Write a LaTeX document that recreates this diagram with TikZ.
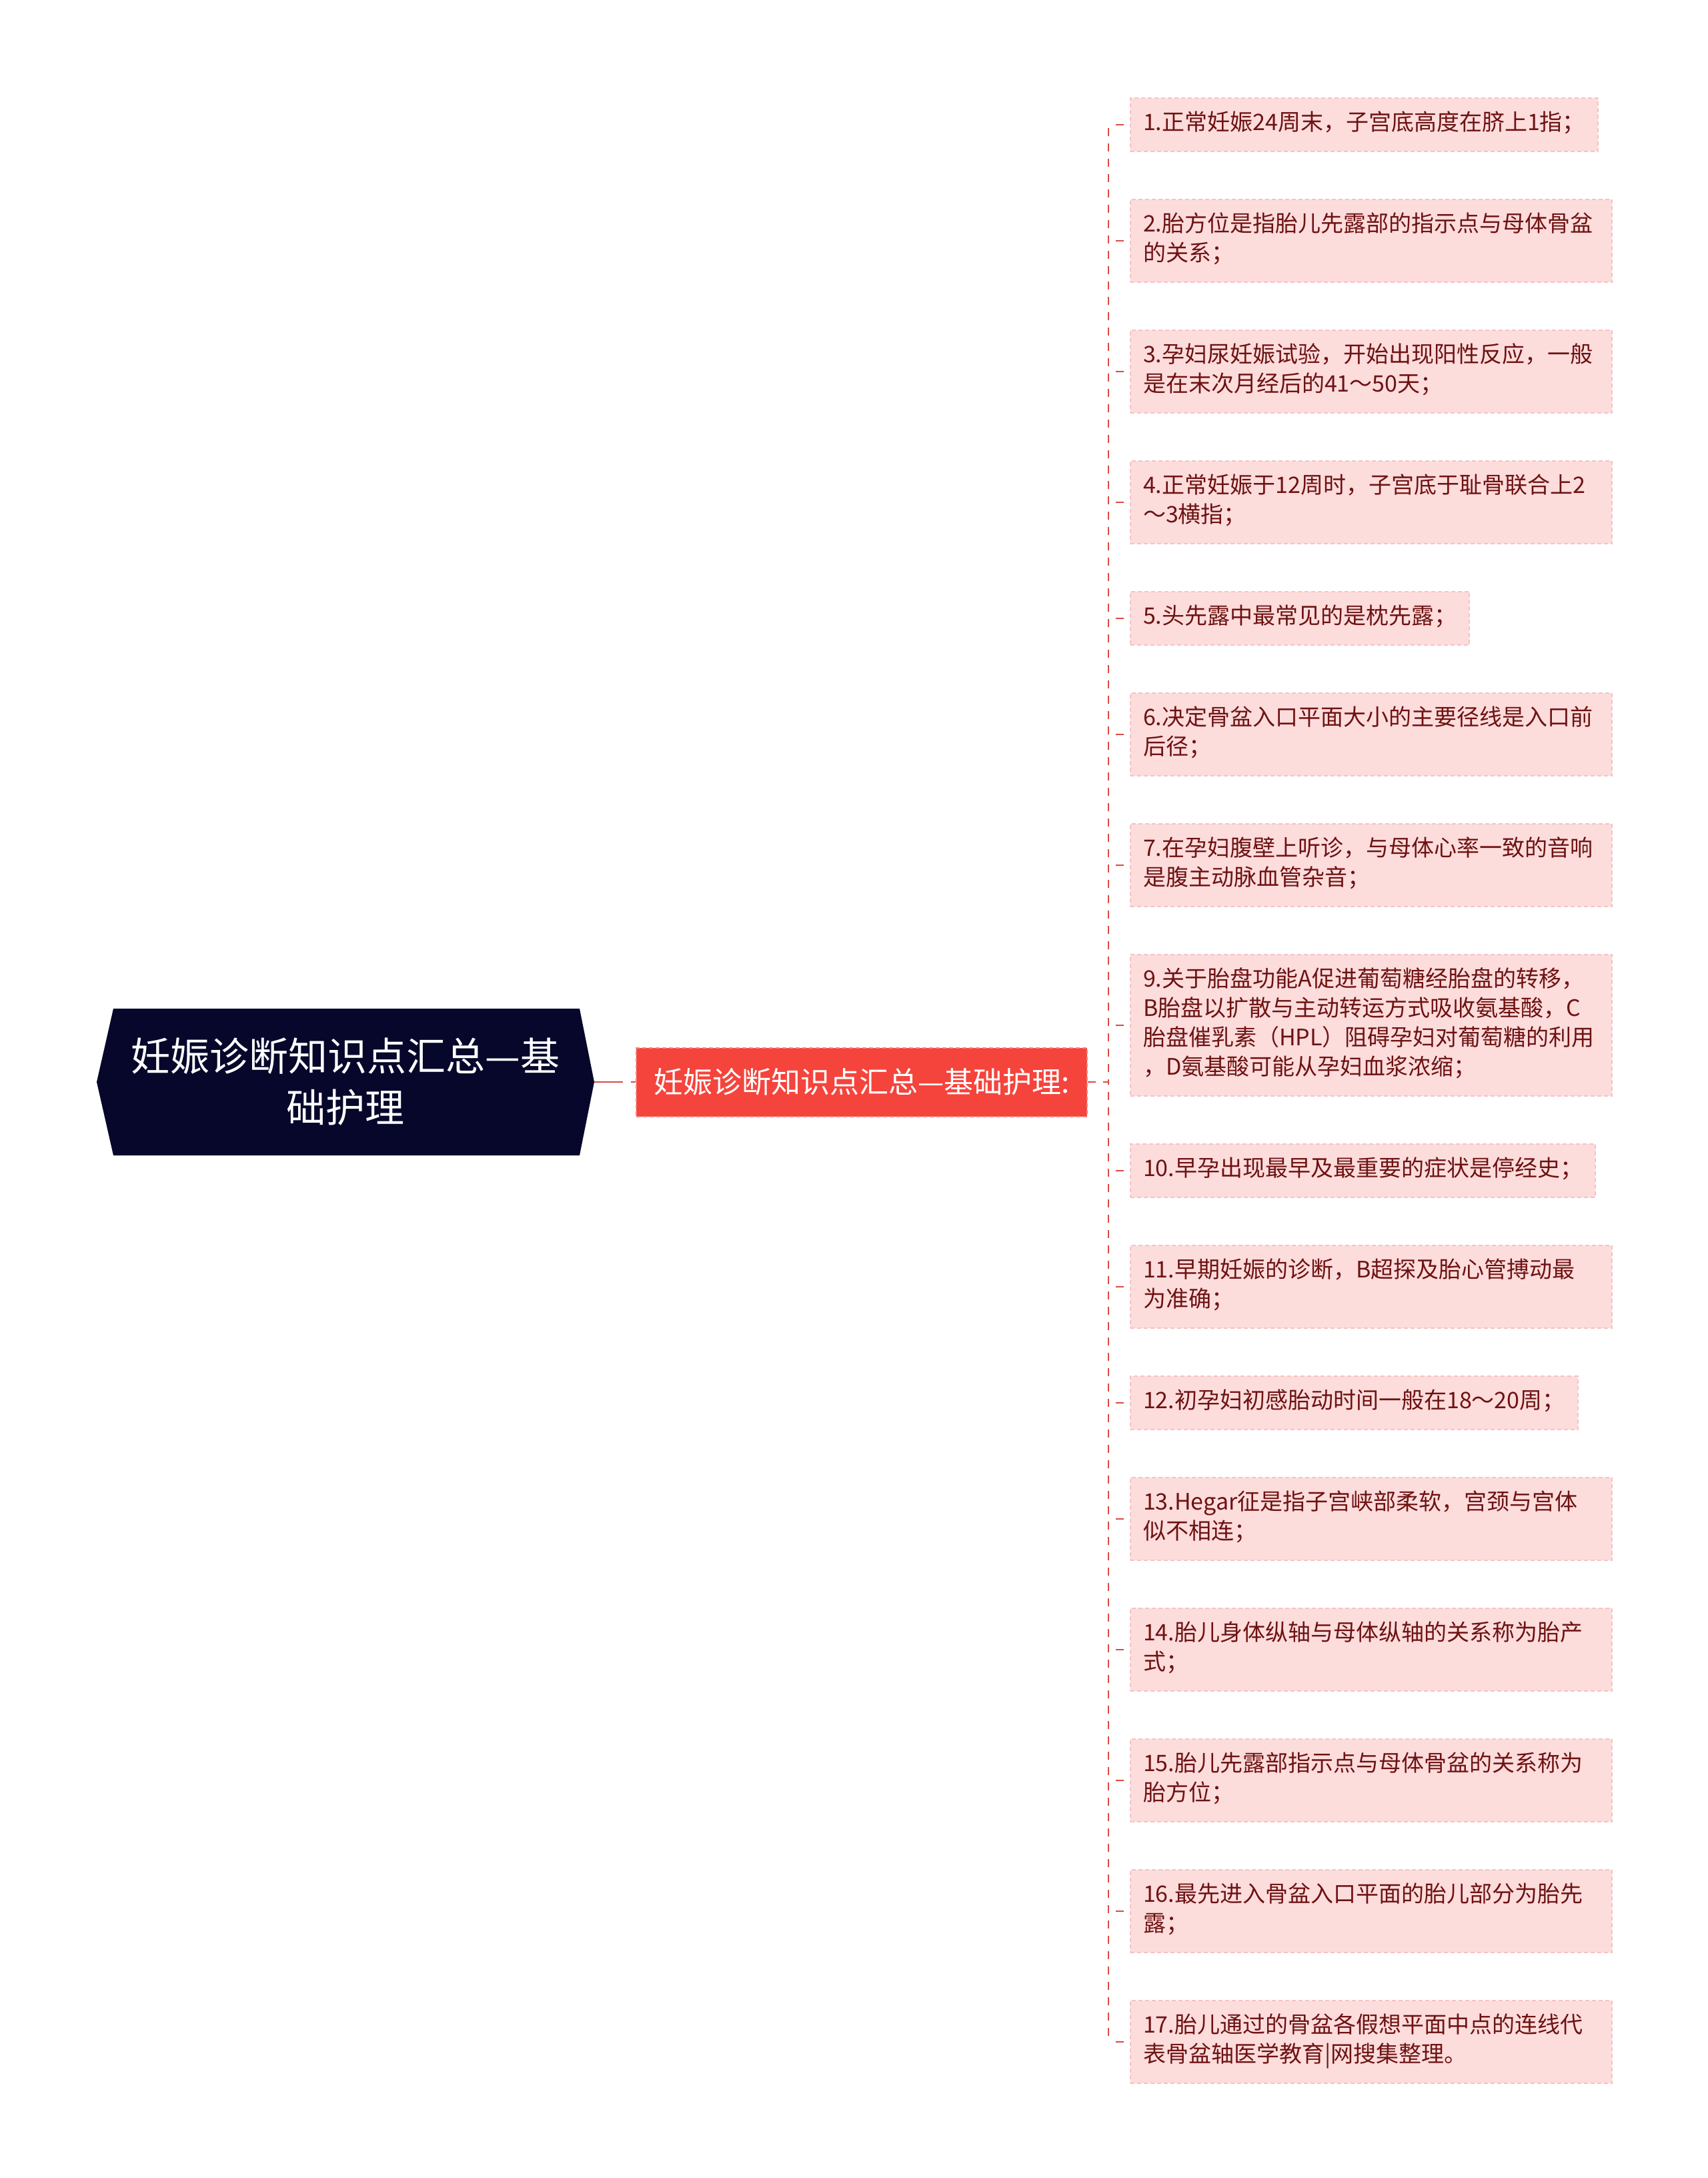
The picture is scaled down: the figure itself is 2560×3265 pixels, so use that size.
\documentclass[tikz,border=0pt]{standalone}
\usepackage{fontspec}
\setmainfont{Noto Sans CJK SC}
\usepackage{xcolor}
\usetikzlibrary{positioning}
\definecolor{rootbg}{HTML}{07072B}
\definecolor{branchbg}{HTML}{F5443C}
\definecolor{branchline}{HTML}{F88680}
\definecolor{linkred}{HTML}{DA4A43}
\definecolor{leafbg}{HTML}{FDDCDC}
\definecolor{leafline}{HTML}{F6C2C2}
\definecolor{leaftext}{HTML}{6E1212}
\tikzstyle{myroot} = [minimum width=746pt, minimum height=220pt, inner sep=0pt, text=white, align=center, font=\fontsize{59}{77}\selectfont,
  path picture={\fill[rootbg] ([xshift=25pt]path picture bounding box.north west) -- ([xshift=-22pt]path picture bounding box.north east) -- (path picture bounding box.east) -- ([xshift=-22pt]path picture bounding box.south east) -- ([xshift=25pt]path picture bounding box.south west) -- (path picture bounding box.west) -- cycle;}]
\tikzstyle{mybranch} = [rectangle, minimum width=676pt, minimum height=103pt, inner sep=0pt, fill=branchbg, draw=branchline, line width=2pt, dash pattern=on 6pt off 4pt, text=white, font=\fontsize{44}{52}\selectfont]
\tikzstyle{myleaf} = [rectangle, fill=leafbg, draw=leafline, line width=2pt, dash pattern=on 6pt off 4pt, text=leaftext, inner xsep=19pt, inner ysep=18pt, align=left, font=\fontsize{34}{44}\selectfont, execute at begin node=\strut, execute at end node=\strut]
\tikzstyle{myleafwide} = [myleaf, text width=684pt]
\tikzstyle{mylink} = [draw=linkred, line width=2.5pt, dash pattern=on 12pt off 11pt]

\begin{document}
\begin{tikzpicture}[x=1pt, y=-1pt]
	\fill[white] (0,0) rectangle (2560,3265);
	\useasboundingbox (0,0) rectangle (2560,3265);
	% centre et titre
	\node [myroot] (root) at (518,1622) {妊娠诊断知识点汇总—基\\础护理};
	\node [mybranch] (main) at (1292,1622) {妊娠诊断知识点汇总—基础护理:};
	\coordinate (spine) at ([xshift=31pt]main.east);
	% les points
	\node [myleaf, anchor=north west] (n1) at (1694,146) {1.正常妊娠24周末，子宫底高度在脐上1指；};
	\node [myleafwide, below right=70pt and 0pt of n1.south west] (n2) {2.胎方位是指胎儿先露部的指示点与母体骨盆\\的关系；};
	\node [myleafwide, below right=70pt and 0pt of n2.south west] (n3) {3.孕妇尿妊娠试验，开始出现阳性反应，一般\\是在末次月经后的41～50天；};
	\node [myleafwide, below right=70pt and 0pt of n3.south west] (n4) {4.正常妊娠于12周时，子宫底于耻骨联合上2\\～3横指；};
	\node [myleaf, below right=70pt and 0pt of n4.south west] (n5) {5.头先露中最常见的是枕先露；};
	\node [myleafwide, below right=70pt and 0pt of n5.south west] (n6) {6.决定骨盆入口平面大小的主要径线是入口前\\后径；};
	\node [myleafwide, below right=70pt and 0pt of n6.south west] (n7) {7.在孕妇腹壁上听诊，与母体心率一致的音响\\是腹主动脉血管杂音；};
	\node [myleafwide, below right=70pt and 0pt of n7.south west] (n9) {9.关于胎盘功能A促进葡萄糖经胎盘的转移，\\B胎盘以扩散与主动转运方式吸收氨基酸，C\\胎盘催乳素（HPL）阻碍孕妇对葡萄糖的利用\\，D氨基酸可能从孕妇血浆浓缩；};
	\node [myleaf, below right=70pt and 0pt of n9.south west] (n10) {10.早孕出现最早及最重要的症状是停经史；};
	\node [myleafwide, below right=70pt and 0pt of n10.south west] (n11) {11.早期妊娠的诊断，B超探及胎心管搏动最\\为准确；};
	\node [myleaf, below right=70pt and 0pt of n11.south west] (n12) {12.初孕妇初感胎动时间一般在18～20周；};
	\node [myleafwide, below right=70pt and 0pt of n12.south west] (n13) {13.Hegar征是指子宫峡部柔软，宫颈与宫体\\似不相连；};
	\node [myleafwide, below right=70pt and 0pt of n13.south west] (n14) {14.胎儿身体纵轴与母体纵轴的关系称为胎产\\式；};
	\node [myleafwide, below right=70pt and 0pt of n14.south west] (n15) {15.胎儿先露部指示点与母体骨盆的关系称为\\胎方位；};
	\node [myleafwide, below right=70pt and 0pt of n15.south west] (n16) {16.最先进入骨盆入口平面的胎儿部分为胎先\\露；};
	\node [myleafwide, below right=70pt and 0pt of n16.south west] (n17) {17.胎儿通过的骨盆各假想平面中点的连线代\\表骨盆轴医学教育|网搜集整理。};
	% liens
	\draw [mylink, dash pattern=on 43pt off 12pt] (root.east) -- (main.west);
	\foreach \k in {1,2,3,4,5,6,7,9,10,11,12,13,14,15,16,17}{
		\draw [mylink] (main.east) -- (spine) -- (n\k.west -| spine);
		\draw [mylink, dash phase=12.5pt] (n\k.west -| spine) -- (n\k.west);
	}
\end{tikzpicture}
\end{document}
